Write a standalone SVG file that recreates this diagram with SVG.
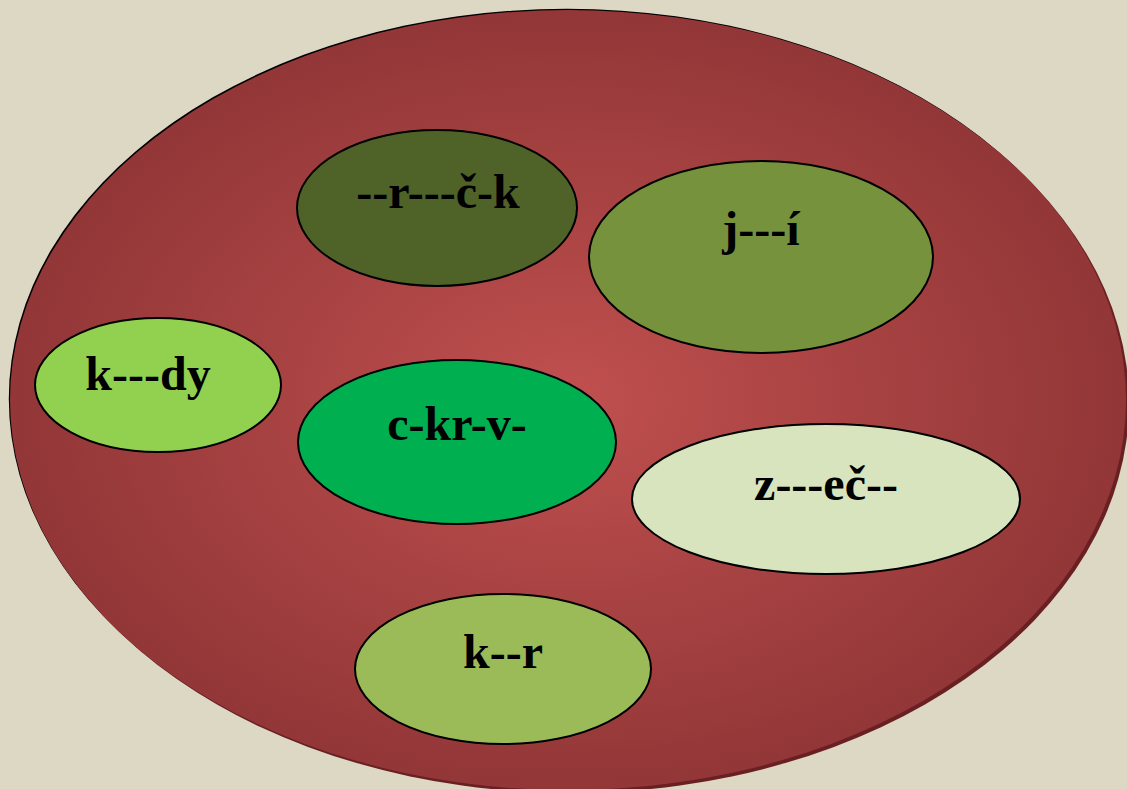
<svg xmlns="http://www.w3.org/2000/svg" width="1127" height="789" viewBox="0 0 1127 789">
<defs>
<radialGradient id="bg" cx="568" cy="400" r="560" gradientUnits="userSpaceOnUse" gradientTransform="translate(568 400) scale(1 0.7) translate(-568 -400)">
<stop offset="0" stop-color="#C0504F"/>
<stop offset="1" stop-color="#923637"/>
</radialGradient>
<style>
.n ellipse{stroke:#000;stroke-width:2}
.n text{font-family:"Liberation Serif","Times New Roman",serif;font-weight:bold;font-size:48px;fill:#000;text-anchor:middle}
</style>
</defs>
<rect width="1127" height="789" fill="#DDD8C4"/>
<g id="outer">
<ellipse cx="566.8" cy="398.8" rx="558" ry="390" fill="#000"/>
<ellipse cx="571" cy="403" rx="558" ry="390" fill="#6A2022"/>
<ellipse cx="568" cy="400" rx="558" ry="390" fill="url(#bg)"/>
</g>
<g id="n1" class="n"><ellipse cx="437" cy="208" rx="140" ry="78" fill="#4F6228"/><text x="438" y="208">--r---č-k</text></g>
<g id="n2" class="n"><ellipse cx="761" cy="257" rx="172" ry="96" fill="#76923C"/><text x="761" y="245">j---í</text></g>
<g id="n3" class="n"><ellipse cx="158" cy="385" rx="123" ry="67" fill="#92D050"/><text x="148" y="390">k---dy</text></g>
<g id="n4" class="n"><ellipse cx="457" cy="442" rx="159" ry="82" fill="#00B050"/><text x="457" y="440">c-kr-v-</text></g>
<g id="n5" class="n"><ellipse cx="826" cy="499" rx="194" ry="75" fill="#D7E4BD"/><text x="826" y="500">z---eč--</text></g>
<g id="n6" class="n"><ellipse cx="503" cy="669" rx="148" ry="75" fill="#9BBB59"/><text x="503" y="668">k--r</text></g>
<g id="connectors"/>
</svg>
